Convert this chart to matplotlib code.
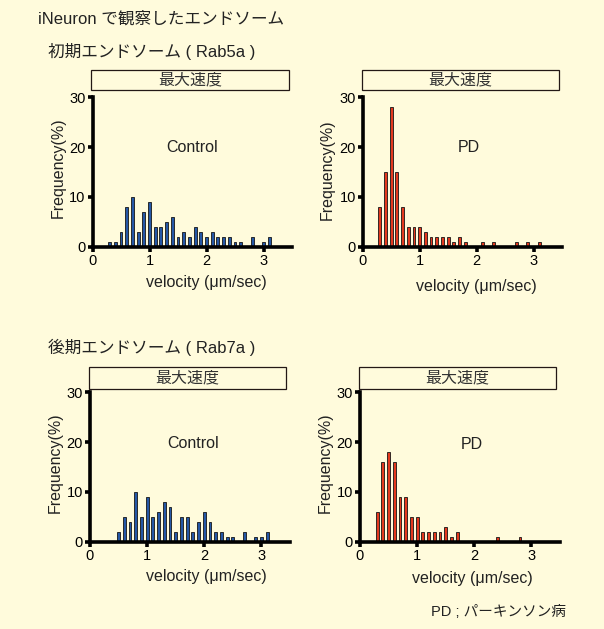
import matplotlib
matplotlib.use("Agg")
import matplotlib.pyplot as plt
from matplotlib.patches import Rectangle

plt.rcParams['font.family'] = ['Liberation Sans', 'Noto Sans CJK JP', 'DejaVu Sans']

# ---------------- data ----------------
velocity_bins = [0.3, 0.4, 0.5, 0.6, 0.7, 0.8, 0.9, 1.0, 1.1, 1.2, 1.3, 1.4, 1.5, 1.6, 1.7,
                 1.8, 1.9, 2.0, 2.1, 2.2, 2.3, 2.4, 2.5, 2.6, 2.7, 2.8, 2.9, 3.0, 3.1]

rab5a_control = [1, 1, 3, 8, 10, 3, 7, 9, 4, 4, 5, 6, 2, 3, 2,
                 4, 3, 2, 3, 2, 2, 2, 1, 1, 0, 2, 0, 1, 2]
rab5a_pd = [8, 15, 28, 15, 8, 4, 4, 4, 3, 2, 2, 2, 2, 1, 2,
            1, 0, 0, 1, 0, 1, 0, 0, 0, 1, 0, 1, 0, 1]
rab7a_control = [0, 0, 2, 5, 4, 10, 5, 9, 5, 6, 8, 7, 2, 5, 5,
                 2, 4, 6, 4, 2, 2, 1, 1, 0, 2, 0, 1, 1, 2]
rab7a_pd = [6, 16, 18, 16, 9, 9, 5, 5, 2, 2, 2, 2, 3, 1, 2,
            0, 0, 0, 0, 0, 0, 1, 0, 0, 0, 1, 0, 0, 0]

x_ticks = [0, 1, 2, 3]
y_ticks = [0, 10, 20, 30]
panel_title = "最大速度"
x_label = "velocity (μm/sec)"
y_label = "Frequency(%)"

# ---------------- layout ----------------
W, H = 604, 629
BG = '#fffbdc'
fig = plt.figure(figsize=(W / 100, H / 100), dpi=100, facecolor=BG)


def fx(x):
    return x / W


def fy(y):
    return 1 - y / H


panels = [
    # data, color, name, axes px (l, t, r, b), box px, name pos, ylabel pos, xlabel pos
    (rab5a_control, '#2557a6', 'Control', (92.5, 97.3, 292, 246.7), (91, 70, 288.7, 90.3),
     (1.75, 20), (58, 168), (206.7, 282.7)),
    (rab5a_pd, '#e4391f', 'PD', (362.7, 97.3, 562, 246.7), (361.7, 70, 558.7, 90.3),
     (1.87, 20), (327, 170), (476.5, 286)),
    (rab7a_control, '#2557a6', 'Control', (90, 392.3, 290, 541.7), (89.3, 366.7, 285.7, 389.3),
     (1.8, 19.8), (55.5, 463), (206, 577)),
    (rab7a_pd, '#e4391f', 'PD', (360, 392.3, 560, 541.7), (359.3, 366.7, 555.7, 389.3),
     (1.96, 19.5), (325.5, 463), (472.5, 578)),
]

for data, color, name, (l, t, r, b), (bl, bt, br, bb), npos, ylp, xlp in panels:
    ax = fig.add_axes([fx(l), fy(b), (r - l) / W, (b - t) / H])
    ax.set_facecolor('none')
    ax.bar(velocity_bins, data, width=0.05, color=color, edgecolor='#151515',
           linewidth=0.6, align='center', zorder=2)
    ax.set_xlim(0, 3.5)
    ax.set_ylim(0, 30)
    ax.set_xticks(x_ticks)
    ax.set_yticks(y_ticks)
    for s in ['top', 'right']:
        ax.spines[s].set_visible(False)
    for s in ['left', 'bottom']:
        ax.spines[s].set_linewidth(2.6)
        ax.spines[s].set_color('black')
        ax.spines[s].set_zorder(3)
    ax.tick_params(axis='both', direction='out', length=3.5, width=2.6,
                   labelsize=10.5, colors='black', pad=1.5)
    ax.text(npos[0], npos[1], name, fontsize=11.5, color='#222222',
            ha='center', va='center')
    # title box
    fig.add_artist(Rectangle((fx(bl), fy(bb)), (br - bl) / W, (bb - bt) / H,
                             transform=fig.transFigure, facecolor='none',
                             edgecolor='#231815', linewidth=0.9))
    fig.text(fx((bl + br) / 2), fy((bt + bb) / 2), panel_title, fontsize=11.5,
             color='#333333', ha='center', va='center')
    fig.text(fx(ylp[0]), fy(ylp[1]), y_label, rotation=90, fontsize=11.5,
             color='#222222', ha='center', va='center')
    fig.text(fx(xlp[0]), fy(xlp[1]), x_label, fontsize=11.5,
             color='#222222', ha='center', va='center')

fig.text(fx(38), fy(19), "iNeuron で観察したエンドソーム", fontsize=12,
         color='#222222', ha='left', va='center')
fig.text(fx(48), fy(52), "初期エンドソーム ( Rab5a )", fontsize=12,
         color='#222222', ha='left', va='center')
fig.text(fx(48), fy(347), "後期エンドソーム ( Rab7a )", fontsize=12,
         color='#222222', ha='left', va='center')
fig.text(fx(566), fy(612), "PD ; パーキンソン病", fontsize=10.5,
         color='#222222', ha='right', va='center')

fig.savefig('out.png', dpi=100, facecolor=BG)
